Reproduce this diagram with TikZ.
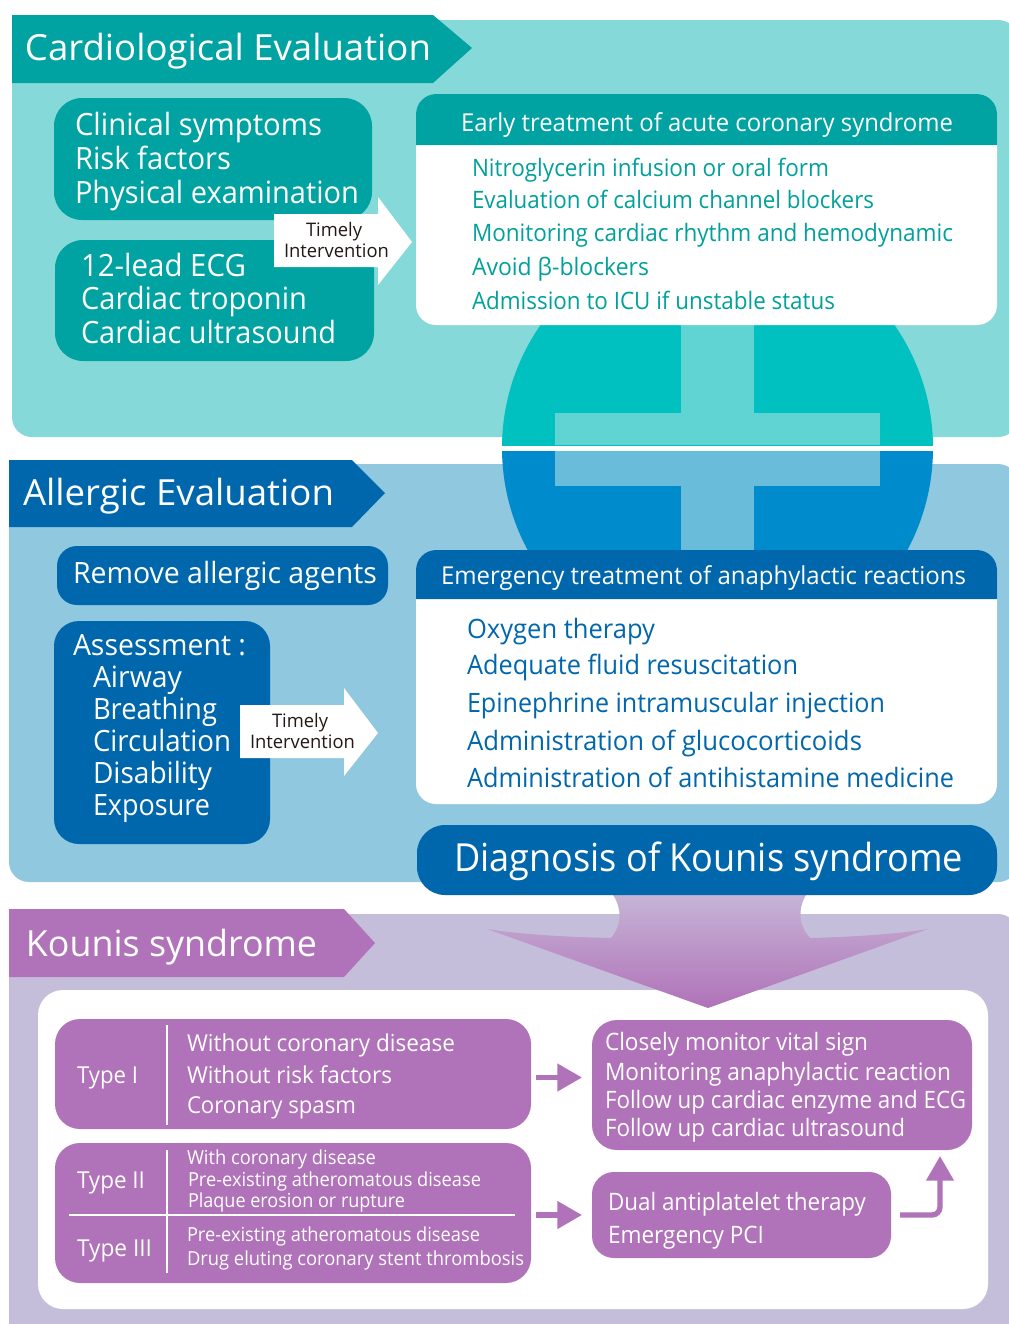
\documentclass[tikz,border=0pt]{standalone}
\usepackage{fontspec}
\usepackage{graphicx}
\setmainfont{Open Sans}
\usetikzlibrary{arrows.meta,calc}
\definecolor{tealpanel}{HTML}{85D9D8}
\definecolor{tealdark}{HTML}{00A3A1}
\definecolor{tealcircle}{HTML}{00C0C0}
\definecolor{tealcross}{HTML}{60D4D3}
\definecolor{bluepanel}{HTML}{8FC8DF}
\definecolor{bluedark}{HTML}{0067AC}
\definecolor{bluecircle}{HTML}{008CCC}
\definecolor{bluecross}{HTML}{6ABCDB}
\definecolor{purplepanel}{HTML}{C5BEDB}
\definecolor{purpledark}{HTML}{B072B8}
\definecolor{arrowtop}{HTML}{C6B4D6}
\definecolor{txtdark}{HTML}{231815}
\definecolor{txtteal}{HTML}{00A19B}
\definecolor{txtblue}{HTML}{0067AC}
\tikzset{
  x=0.75pt,y=-0.75pt,
  boxnode/.style={inner sep=0pt,outer sep=0pt,rectangle,draw=none},
  txtnode/.style={inner sep=0pt,outer sep=0pt,anchor=base west},
  parrow/.style={draw=purpledark,line width=4pt,-{Triangle[length=18.5pt,width=20pt]}},
  divider/.style={draw=white,line width=1.5pt}
}
% name, x0,y0,x1,y1, radius(px), colour
\newcommand\bx[7]{\node[boxnode,fill=#7,rounded corners=#6*0.75pt,
  minimum width={(#4-#2)*0.75pt},minimum height={(#5-#3)*0.75pt}] (#1) at ({(#2+#4)/2},{(#3+#5)/2}) {};}
\newlength\mylen
% name, x0, baseline y, size(pt), colour, x1, text
\newcommand\tx[7]{\node[txtnode,text=#5,font=\fontsize{#4}{#4}\selectfont] (#1) at (#2,#3) {\settowidth\mylen{#7}\pgfmathsetmacro\rr{((#6-#2)*0.75)/\mylen}\scalebox{\rr}[1]{#7}};}
\begin{document}
\begin{tikzpicture}
\useasboundingbox (0,0) rectangle (1008,1324);
\fill[white] (0,0) rectangle (1008,1324);
% panels
\bx{panelA}{12}{20}{1018}{437}{20}{tealpanel}
\bx{panelB}{9}{464}{1018}{882}{20}{bluepanel}
\bx{panelC}{9}{914}{1018}{1344}{20}{purplepanel}
% circle
\begin{scope}
\clip (490,300) rectangle (945,445);
\fill[tealcircle] (717.5,448) circle[radius=215.5];
\fill[tealcross] (681,300) rectangle (754,445);
\fill[tealcross] (555,413) rectangle (880,445);
\end{scope}
\begin{scope}
\clip (490,451) rectangle (945,600);
\fill[bluecircle] (717.5,448) circle[radius=215.5];
\fill[bluecross] (681,451) rectangle (754,600);
\fill[bluecross] (555,451) rectangle (880,486);
\end{scope}
% banners
\fill[tealdark] (12,15) -- (433,15) -- (472,48) -- (433,83) -- (12,83) -- cycle;
\fill[bluedark] (9,460) -- (352,460) -- (385,493) -- (352,527) -- (9,527) -- cycle;
\fill[purpledark] (9,909) -- (344,909) -- (375,943) -- (344,977) -- (9,977) -- cycle;
% teal boxes
\bx{clin}{54}{98}{372}{220}{28}{tealdark}
\bx{ecg}{55}{240}{374}{361}{28}{tealdark}
\bx{early}{416}{94}{997}{325}{20}{white}
\fill[tealdark] (416,145) {[rounded corners=15pt] -- (416,94) -- (997,94)} -- (997,145) -- cycle;
% blue boxes
\bx{remove}{57}{546}{388}{605}{20}{bluedark}
\bx{assess}{54}{621}{270}{844}{25}{bluedark}
\bx{emerg}{416}{550}{997}{804}{20}{white}
\fill[bluedark] (416,599) {[rounded corners=15pt] -- (416,550) -- (997,550)} -- (997,599) -- cycle;
% big arrow
\bx{whitebox}{38}{990}{988}{1309}{25}{white}
\shade[top color=arrowtop,bottom color=purpledark]
  (613,895) .. controls (622,908) and (622,925) .. (611,938)
  .. controls (570,937) and (525,935) .. (487,929)
  -- (708,1008) -- (928,929)
  .. controls (890,935) and (845,937) .. (810,938)
  .. controls (798,925) and (798,908) .. (806,895) -- cycle;
\bx{diag}{417}{825}{997}{895}{28}{bluedark}
% timely arrows
\fill[white] (274,214) -- (378,214) -- (378,197) -- (412,242) -- (378,285) -- (378,267) -- (274,267) -- cycle;
\fill[white] (240,705) -- (344,705) -- (344,688) -- (378,733) -- (344,776) -- (344,758) -- (240,758) -- cycle;
% purple boxes
\bx{typeone}{55}{1019}{531}{1129}{25}{purpledark}
\bx{typetwo}{55}{1143}{531}{1283}{25}{purpledark}
\bx{monitor}{592}{1020}{972}{1150}{25}{purpledark}
\bx{dual}{592}{1172}{891}{1258}{22}{purpledark}
\draw[divider] (167,1025) -- (167,1125);
\draw[divider] (167,1150) -- (167,1273);
\draw[divider] (69,1215) -- (515,1215);
\coordinate (elbowtip) at (940,1156);
\coordinate (oneout) at ($(typeone.east)+(0,3.5)$);
\draw[parrow,shorten <=3.75pt,shorten >=7.5pt] (oneout) -- (oneout -| monitor.west);
\draw[parrow,shorten <=3.75pt,shorten >=7.5pt] (dual.west -| typetwo.east) -- (dual.west);
\draw[parrow,rounded corners=6pt,shorten <=6.75pt,line width=4pt] (dual.east) -| (elbowtip);
% titles
\tx{tA}{25}{60}{27}{white}{431}{Cardiological Evaluation}
\tx{tB}{23}{505}{27}{white}{334}{Allergic Evaluation}
\tx{tC}{26}{956}{27}{white}{317}{Kounis syndrome}
% teal text
\tx{a1}{75}{135}{23}{white}{322}{Clinical symptoms}
\tx{a2}{75}{169}{23}{white}{231}{Risk factors}
\tx{a3}{75}{203}{23}{white}{359}{Physical examination}
\tx{b1}{81}{276}{23}{white}{246}{12-lead ECG}
\tx{b2}{81}{309}{23}{white}{307}{Cardiac troponin}
\tx{b3}{81}{343}{23}{white}{336}{Cardiac ultrasound}
\tx{eh}{461}{131}{18.5}{white}{953}{Early treatment of acute coronary syndrome}
\tx{e1}{472}{176}{18}{txtteal}{829}{Nitroglycerin infusion or oral form}
\tx{e2}{472}{208}{18}{txtteal}{874}{Evaluation of calcium channel blockers}
\tx{e3}{472}{241}{18}{txtteal}{953}{Monitoring cardiac rhythm and hemodynamic}
\tx{e4}{472}{275}{18}{txtteal}{649}{Avoid β-blockers}
\tx{e5}{472}{309}{18}{txtteal}{835}{Admission to ICU if unstable status}
\tx{ti1}{306}{236}{14}{txtdark}{362}{Timely}
\tx{ti2}{284}{257}{14}{txtdark}{389}{Intervention}
% blue text
\tx{r1}{73}{583}{22}{white}{377}{Remove allergic agents}
\tx{s0}{73}{655}{22}{white}{246}{Assessment :}
\tx{s1}{93}{687}{22}{white}{182}{Airway}
\tx{s2}{93}{719}{22}{white}{217}{Breathing}
\tx{s3}{93}{751}{22}{white}{231}{Circulation}
\tx{s4}{93}{783}{22}{white}{212}{Disability}
\tx{s5}{93}{815}{22}{white}{210}{Exposure}
\tx{tj1}{272}{727}{14}{txtdark}{328}{Timely}
\tx{tj2}{250}{748}{14}{txtdark}{355}{Intervention}
\tx{fh}{441}{584}{18.5}{white}{966}{Emergency treatment of anaphylactic reactions}
\tx{f1}{467}{638}{20}{txtblue}{655}{Oxygen therapy}
\tx{f2}{467}{674}{20}{txtblue}{798}{Adequate fluid resuscitation}
\tx{f3}{467}{712}{20}{txtblue}{885}{Epinephrine intramuscular injection}
\tx{f4}{467}{750}{20}{txtblue}{862}{Administration of glucocorticoids}
\tx{f5}{467}{787}{20}{txtblue}{954}{Administration of antihistamine medicine}
\tx{dg}{454}{871}{29}{white}{963}{Diagnosis of Kounis syndrome}
% purple text
\tx{k1}{77}{1083}{17.5}{white}{138}{Type I}
\tx{k2}{187}{1051}{17.5}{white}{455}{Without coronary disease}
\tx{k3}{187}{1083}{17.5}{white}{392}{Without risk factors}
\tx{k4}{187}{1113}{17.5}{white}{356}{Coronary spasm}
\tx{l1}{77}{1188}{17.5}{white}{145}{Type II}
\tx{l2}{77}{1256}{17.5}{white}{152}{Type III}
\tx{l3}{187}{1164}{14.5}{white}{376}{With coronary disease}
\tx{l4}{188}{1186}{14.5}{white}{481}{Pre-existing atheromatous disease}
\tx{l5}{188}{1207}{14.5}{white}{405}{Plaque erosion or rupture}
\tx{l6}{187}{1241}{14.5}{white}{480}{Pre-existing atheromatous disease}
\tx{l7}{187}{1265}{14.5}{white}{524}{Drug eluting coronary stent thrombosis}
\tx{m1}{605}{1050}{18}{white}{868}{Closely monitor vital sign}
\tx{m2}{605}{1080}{18}{white}{951}{Monitoring anaphylactic reaction}
\tx{m3}{605}{1108}{18}{white}{966}{Follow up cardiac enzyme and ECG}
\tx{m4}{605}{1136}{18}{white}{905}{Follow up cardiac ultrasound}
\tx{d1}{608}{1210}{18}{white}{866}{Dual antiplatelet therapy}
\tx{d2}{608}{1243}{18}{white}{764}{Emergency PCI}
\end{tikzpicture}
\end{document}
